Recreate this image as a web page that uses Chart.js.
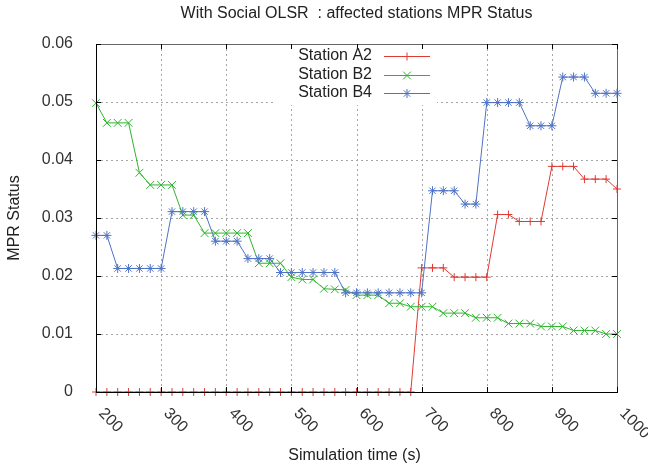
<!DOCTYPE html>
<html><head><meta charset="utf-8">
<script src="https://cdn.jsdelivr.net/npm/chart.js@4.4.0/dist/chart.umd.min.js"></script>
<style>html,body{margin:0;padding:0;background:#fff;}#wrap{width:648px;height:468px;position:relative;}</style>
</head><body><div id="wrap"><canvas id="c" width="648" height="468"></canvas></div>
<script>
const chartTitle = 'With Social OLSR  : affected stations MPR Status';
const xTitle = 'Simulation time (s)';
const yTitle = 'MPR Status';
const seriesLabels = ['Station A2', 'Station B2', 'Station B4'];
const xTickValues = [200, 300, 400, 500, 600, 700, 800, 900, 1000];
const yTickValues = [0, 0.01, 0.02, 0.03, 0.04, 0.05, 0.06];
const yTickLabels = ['0', '0.01', '0.02', '0.03', '0.04', '0.05', '0.06'];
const times = [200,216.7,233.3,250,266.7,283.3,300,316.7,333.3,350,366.7,383.3,400,416.7,433.3,450,466.7,483.3,500,516.7,533.3,550,566.7,583.3,600,616.7,633.3,650,666.7,683.3,700,716.7,733.3,750,766.7,783.3,800,816.7,833.3,850,866.7,883.3,900,916.7,933.3,950,966.7,983.3,1000];
const stationA2 = [0,0,0,0,0,0,0,0,0,0,0,0,0,0,0,0,0,0,0,0,0,0,0,0,0,0,0,0,0,0,
  0.0214,0.0214,0.0214,0.0198,0.0198,0.0198,0.0198,0.0306,0.0306,0.0294,0.0294,0.0294,
  0.0389,0.0389,0.0389,0.0367,0.0367,0.0367,0.0350];
const stationB2 = [0.0498,0.0464,0.0464,0.0464,0.0378,0.0357,0.0357,0.0357,0.0305,0.0305,
  0.0274,0.0274,0.0274,0.0274,0.0274,0.0222,0.0222,0.0222,0.0198,0.0194,0.0194,
  0.0178,0.0177,0.0176,0.0167,0.0167,0.0167,0.0153,0.0153,0.0147,0.0147,0.0147,
  0.0136,0.0136,0.0136,0.0128,0.0128,0.0128,0.0118,0.0118,0.0118,0.0113,0.0113,0.0113,
  0.0106,0.0106,0.0106,0.0100,0.0100];
const stationB4 = [0.0270,0.0270,0.0213,0.0213,0.0213,0.0213,0.0213,0.0311,0.0311,0.0311,0.0311,
  0.0260,0.0260,0.0260,0.0230,0.0230,0.0230,0.0206,0.0206,0.0206,0.0206,0.0206,0.0206,
  0.0171,0.0171,0.0171,0.0171,0.0171,0.0171,0.0171,0.0171,
  0.0347,0.0347,0.0347,0.0324,0.0324,0.0499,0.0499,0.0499,0.0499,
  0.0459,0.0459,0.0459,0.0543,0.0543,0.0543,0.0515,0.0515,0.0515];

const FONT = '"Liberation Sans", Arial, Helvetica, sans-serif';
const colors = ['#e23a32', '#2db52d', '#4f72c4'];
const styles = ['cross', 'crossRot', 'star'];
const radii = [4, 5.5, 4.5];

function mark(ctx, style, x, y, r) {
  ctx.beginPath();
  if (style === 'cross' || style === 'star') {
    ctx.moveTo(x - r, y); ctx.lineTo(x + r, y);
    ctx.moveTo(x, y - r); ctx.lineTo(x, y + r);
  }
  if (style === 'crossRot' || style === 'star') {
    const d = r * Math.SQRT1_2;
    ctx.moveTo(x - d, y - d); ctx.lineTo(x + d, y + d);
    ctx.moveTo(x - d, y + d); ctx.lineTo(x + d, y - d);
  }
  ctx.stroke();
}

const gp = {
  id: 'gp',
  beforeDatasetsDraw(chart) {
    const {ctx, chartArea: a, scales: {x, y}} = chart;
    ctx.save();
    ctx.strokeStyle = '#a6a6a6'; ctx.lineWidth = 1; ctx.setLineDash([2, 3]);
    xTickValues.forEach(v => {
      const px = Math.round(x.getPixelForValue(v)) + 0.5;
      if (px > a.left + 2 && px < a.right - 2) { ctx.beginPath(); ctx.moveTo(px, a.top); ctx.lineTo(px, a.bottom); ctx.stroke(); }
    });
    yTickValues.forEach(v => {
      const py = Math.round(y.getPixelForValue(v)) + 0.5;
      if (py > a.top + 2 && py < a.bottom - 2) { ctx.beginPath(); ctx.moveTo(a.left, py); ctx.lineTo(a.right, py); ctx.stroke(); }
    });
    ctx.setLineDash([]);
    // legend box background (opaque, like gnuplot key)
    ctx.fillStyle = '#fff';
    ctx.fillRect(276, a.top + 1, 161, 60);
    ctx.restore();
  },
  afterDatasetsDraw(chart) {
    const {ctx, chartArea: a, scales: {x, y}} = chart;
    ctx.save();
    // border
    ctx.lineWidth = 1;
    ctx.strokeStyle = '#666';
    ctx.beginPath();
    ctx.moveTo(a.left, a.top + 0.5); ctx.lineTo(a.right + 0.5, a.top + 0.5); ctx.lineTo(a.right + 0.5, a.bottom);
    ctx.stroke();
    ctx.strokeStyle = '#000';
    ctx.beginPath();
    ctx.moveTo(a.left + 0.5, a.top); ctx.lineTo(a.left + 0.5, a.bottom + 0.5); ctx.lineTo(a.right + 1, a.bottom + 0.5);
    ctx.stroke();
    // inward tick marks (mirrored)
    ctx.strokeStyle = '#000';
    xTickValues.forEach(v => {
      const px = Math.round(x.getPixelForValue(v)) + 0.5;
      ctx.beginPath();
      ctx.moveTo(px, a.bottom); ctx.lineTo(px, a.bottom - 5);
      ctx.moveTo(px, a.top); ctx.lineTo(px, a.top + 5);
      ctx.stroke();
    });
    yTickValues.forEach(v => {
      const py = Math.round(y.getPixelForValue(v)) + 0.5;
      ctx.beginPath();
      ctx.moveTo(a.left, py); ctx.lineTo(a.left + 5, py);
      ctx.moveTo(a.right, py); ctx.lineTo(a.right - 5, py);
      ctx.stroke();
    });
    // texts
    ctx.fillStyle = '#222';
    ctx.font = '16px ' + FONT;
    ctx.textAlign = 'center'; ctx.textBaseline = 'alphabetic';
    ctx.fillText(chartTitle, (a.left + a.right) / 2, 18);
    ctx.fillText(xTitle, (a.left + a.right) / 2 - 2, 460);
    ctx.save();
    ctx.translate(19, (a.top + a.bottom) / 2);
    ctx.rotate(-Math.PI / 2);
    ctx.fillText(yTitle, 0, 0);
    ctx.restore();
    // rotated x tick labels
    ctx.fillStyle = '#333';
    ctx.textAlign = 'left'; ctx.textBaseline = 'middle';
    xTickValues.forEach(v => {
      const px = x.getPixelForValue(v);
      ctx.save();
      ctx.translate(px + 5, 411);
      ctx.rotate(Math.PI / 4);
      ctx.fillText(String(v), 0, 0);
      ctx.restore();
    });
    // legend
    const rowsY = [55.5, 74.5, 93];
    ctx.textAlign = 'right'; ctx.textBaseline = 'middle'; ctx.fillStyle = '#222';
    seriesLabels.forEach((lab, i) => {
      ctx.fillText(lab, 372, rowsY[i]);
      ctx.strokeStyle = colors[i]; ctx.lineWidth = 1;
      ctx.beginPath(); ctx.moveTo(384, Math.round(rowsY[i]) + 0.5); ctx.lineTo(430, Math.round(rowsY[i]) + 0.5); ctx.stroke();
      mark(ctx, styles[i], 407, Math.round(rowsY[i]) + 0.5, radii[i]);
    });
    ctx.restore();
  }
};

const seriesData = [stationA2, stationB2, stationB4];
const datasets = seriesData.map((arr, i) => ({
  label: seriesLabels[i],
  data: times.map((t, k) => ({x: t, y: arr[k]})),
  borderColor: colors[i],
  backgroundColor: 'rgba(0,0,0,0)',
  borderWidth: 1,
  pointStyle: styles[i],
  pointRadius: radii[i],
  pointBorderWidth: 1,
  pointBorderColor: colors[i],
  pointBackgroundColor: 'rgba(0,0,0,0)',
  tension: 0,
  fill: false,
  clip: false,
  order: 3 - i
}));

new Chart(document.getElementById('c'), {
  type: 'line',
  data: {datasets},
  options: {
    responsive: false,
    animation: false,
    events: [],
    layout: {padding: {top: 44, right: 31, bottom: 0, left: 0}},
    plugins: {legend: {display: false}, title: {display: false}, tooltip: {enabled: false}},
    scales: {
      x: {
        type: 'linear', min: 200, max: 1000,
        afterBuildTicks: s => { s.ticks = xTickValues.map(v => ({value: v})); },
        afterFit: s => { s.height = 76; },
        ticks: {display: false},
        grid: {display: false},
        border: {display: false}
      },
      y: {
        type: 'linear', min: 0, max: 0.06,
        afterBuildTicks: s => { s.ticks = yTickValues.map(v => ({value: v})); },
        afterFit: s => { s.width = 96; },
        ticks: {
          font: {family: FONT, size: 16},
          color: '#333',
          padding: 15,
          callback: (v) => { const i = yTickValues.indexOf(v); return i >= 0 ? yTickLabels[i] : ''; }
        },
        grid: {display: false},
        border: {display: false}
      }
    }
  },
  plugins: [gp]
});
</script>
</body></html>
